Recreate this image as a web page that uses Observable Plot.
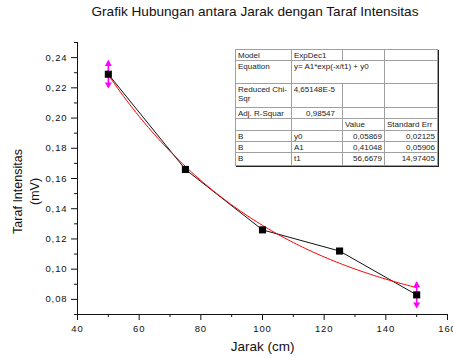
<!DOCTYPE html>
<html>
<head>
<meta charset="utf-8">
<script src="https://cdn.jsdelivr.net/npm/d3@7"></script>
<script src="https://cdn.jsdelivr.net/npm/@observablehq/plot@0.6"></script>
<style>
  body { margin: 0; background: #fff; }
  #chart { position: relative; width: 453px; height: 358px; overflow: hidden;
           font-family: "Liberation Sans", Arial, sans-serif; color: #111; }
  #title { position: absolute; left: 0; top: 4px; width: 453px; padding-left: 57px;
           box-sizing: border-box; text-align: center; font-size: 13.6px; line-height: 16px; }
  #plot { position: absolute; left: 0; top: 30px; }
  #plot g[aria-label="x-axis tick label"] text,
  #plot g[aria-label="y-axis tick label"] text { letter-spacing: 0.9px; }
  #fit { position: absolute; left: 235px; top: 49px; border-collapse: collapse; table-layout: fixed;
         font-size: 8px; line-height: 9px; color: #222; background: #fff;
         border: 1px solid #444; box-shadow: 1px 1px 0 #222; }
  #fit td { border: 1px solid #a0a0a0; padding: 1px 2px 0 2px; vertical-align: top;
            white-space: pre-line; overflow: hidden; box-sizing: border-box; }
  #fit td.num { text-align: right; white-space: nowrap; }
  #fit td.pad { padding-right: 7px; padding-left: 0; }
</style>
</head>
<body>
<div id="chart">
  <div id="title"></div>
  <div id="plot"></div>
  <table id="fit"></table>
</div>
<script>
// Measured sound level against distance
const distance = [50, 75, 100, 125, 150];
const intensity = [0.229, 0.166, 0.126, 0.112, 0.083];

// Error arrows shown on the first and last readings
const errDistance = [50, 150];
const errIntensity = [0.229, 0.083];
const errSize = [0.0085, 0.008];

// Axes
const xDomain = [40, 160];
const yDomain = [0.07, 0.25];
const xTicks = [40, 60, 80, 100, 120, 140, 160];
const xMinorTicks = [50, 70, 90, 110, 130, 150];
const yTicks = [0.08, 0.10, 0.12, 0.14, 0.16, 0.18, 0.20, 0.22, 0.24];
const yMinorTicks = [0.07, 0.09, 0.11, 0.13, 0.15, 0.17, 0.19, 0.21, 0.23, 0.25];

// Exponential decay fit results
const fitModel = "ExpDec1";
const fitEquation = "y= A1*exp(-x/t1) + y0";
const reducedChiSqr = 4.65148e-5;
const adjRSquare = 0.98547;
const fitParamNames = ["y0", "A1", "t1"];
const fitValues = [0.05869, 0.41048, 56.6679];
const fitErrors = [0.02125, 0.05906, 14.97405];

const titleText = "Grafik Hubungan antara Jarak dengan Taraf Intensitas";
const xLabel = "Jarak (cm)";
const yLabel = "Taraf Intensitas\n(mV)";

const comma = v => String(v).replace(".", ",");

document.getElementById("title").textContent = titleText;

// Data rows
const points = distance.map((x, i) => ({x, y: intensity[i]}));
const errRows = errDistance.map((x, i) => ({x, y: errIntensity[i], e: errSize[i]}));

// Fitted curve y = A1*exp(-x/t1) + y0 from the reported parameters
const [y0, A1, t1] = fitValues;
const fitCurve = d3.range(distance[0], distance[distance.length - 1] + 0.5, 1)
  .map(x => ({x, y: A1 * Math.exp(-x / t1) + y0}));

const magenta = "#ff00ff";

const plot = Plot.plot({
  width: 453,
  height: 328,
  marginLeft: 77,
  marginRight: 6,
  marginTop: 12,
  marginBottom: 44,
  style: {fontFamily: "'Liberation Sans', Arial, sans-serif", fontSize: "9.5px", color: "#111", background: "transparent", overflow: "visible"},
  x: {domain: xDomain},
  y: {domain: yDomain},
  marks: [
    Plot.axisX(xMinorTicks, {tickSize: 3, tickFormat: () => "", label: null}),
    Plot.axisX(xTicks, {tickSize: 6, tickPadding: 5, tickFormat: d => String(d), label: null}),
    Plot.axisY(yMinorTicks, {tickSize: 3, tickFormat: () => "", label: null}),
    Plot.axisY(yTicks, {tickSize: 6, tickPadding: 4, tickFormat: d => d.toFixed(2).replace(".", ","), label: null}),
    Plot.ruleX([xDomain[0]], {stroke: "#111"}),
    Plot.ruleY([yDomain[0]], {stroke: "#111"}),
    Plot.line(points, {x: "x", y: "y", stroke: "#111", strokeWidth: 1}),
    Plot.line(fitCurve, {x: "x", y: "y", stroke: "#ff0000", strokeWidth: 1}),
    Plot.ruleX(errRows, {x: "x", y1: d => d.y - d.e, y2: d => d.y + d.e, stroke: magenta, strokeWidth: 1.6}),
    Plot.dot(errRows, {x: "x", y: d => d.y + d.e, dy: 2.5, symbol: "triangle", r: 2.6, fill: magenta, stroke: null}),
    Plot.dot(errRows, {x: "x", y: d => d.y - d.e, dy: -2.5, symbol: "triangle", rotate: 180, r: 2.6, fill: magenta, stroke: null}),
    Plot.dot(points, {x: "x", y: "y", symbol: "square", r: 4, fill: "#000", stroke: null}),
    Plot.text([yLabel], {frameAnchor: "left", textAnchor: "middle", rotate: -90, dx: -52.5, dy: 13, fontSize: 12.5, lineHeight: 1.4, fill: "#111"}),
    Plot.text([xLabel], {frameAnchor: "bottom", dy: 36, fontSize: 13.5, fill: "#111"})
  ]
});
document.getElementById("plot").appendChild(plot);

// Fit summary table
const colWidths = [56, 51, 42, 53];
const rowHeights = [10, 23, 24, 11, 12, 11, 11, 13];
const rows = [
  [{t: "Model"}, {t: fitModel}, {t: ""}, {t: ""}],
  [{t: "Equation"}, {t: fitEquation, span: 2}, {t: ""}],
  [{t: "Reduced Chi-\nSqr"}, {t: reducedChiSqr.toExponential(5).replace(".", ",").replace("e", "E"), cls: "num pad"}, {t: ""}, {t: ""}],
  [{t: "Adj. R-Squar"}, {t: comma(adjRSquare), cls: "num pad"}, {t: ""}, {t: ""}],
  [{t: ""}, {t: ""}, {t: "Value"}, {t: "Standard Err"}],
  ...fitParamNames.map((n, i) => [
    {t: "B"}, {t: n}, {t: comma(fitValues[i]), cls: "num"}, {t: comma(fitErrors[i]), cls: "num"}
  ])
];
const table = d3.select("#fit");
table.append("colgroup").selectAll("col").data(colWidths).join("col").style("width", d => d + "px");
const tr = table.append("tbody").selectAll("tr").data(rows).join("tr")
  .style("height", (d, i) => rowHeights[i] + "px");
tr.selectAll("td").data(d => d).join("td")
  .attr("colspan", d => d.span || null)
  .attr("class", d => d.cls || null)
  .text(d => d.t);
</script>
</body>
</html>
